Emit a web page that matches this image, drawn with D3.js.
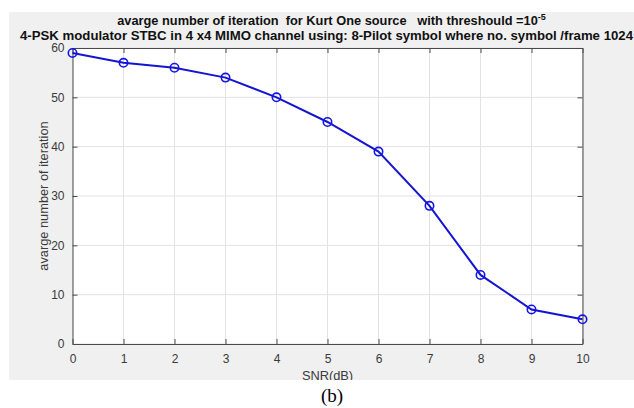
<!DOCTYPE html>
<html>
<head>
<meta charset="utf-8">
<script src="https://cdn.jsdelivr.net/npm/d3@7"></script>
<style>
  body { margin: 0; background: #fff; }
  svg { display: block; font-family: "Liberation Sans", Arial, sans-serif; }
</style>
</head>
<body>
<script>
// data
var snr = [0, 1, 2, 3, 4, 5, 6, 7, 8, 9, 10];
var iterations = [59, 57, 56, 54, 50, 45, 39, 28, 14, 7, 5];
var xTicks = [0, 1, 2, 3, 4, 5, 6, 7, 8, 9, 10];
var yTicks = [0, 10, 20, 30, 40, 50, 60];

var svgWidth = 634;
var svgHeight = 408;

// plot box inside the grey figure
var plot = { left: 72.5, top: 48, right: 582.5, bottom: 344 };

var svg = d3.select("body")
  .append("svg")
  .attr("width", svgWidth)
  .attr("height", svgHeight);

svg.append("clipPath").attr("id", "figclip")
  .append("rect").attr("x", 9).attr("y", 12).attr("width", 625).attr("height", 368);

var fig = svg.append("g").attr("clip-path", "url(#figclip)");

// grey figure background
fig.append("rect")
  .attr("x", 9).attr("y", 12)
  .attr("width", 625).attr("height", 368)
  .attr("fill", "#f0f0f0");

var xScale = d3.scaleLinear().domain([0, 10]).range([plot.left, plot.right]);
var yScale = d3.scaleLinear().domain([0, 60]).range([plot.bottom, plot.top]);

// white axes area
fig.append("rect")
  .attr("x", plot.left).attr("y", plot.top)
  .attr("width", plot.right - plot.left).attr("height", plot.bottom - plot.top)
  .attr("fill", "#fff");

// grid
fig.append("g").selectAll("line").data(xTicks).join("line")
  .attr("x1", d => xScale(d)).attr("x2", d => xScale(d))
  .attr("y1", plot.top).attr("y2", plot.bottom)
  .attr("stroke", "#e3e3e3").attr("stroke-width", 1);
fig.append("g").selectAll("line").data(yTicks).join("line")
  .attr("x1", plot.left).attr("x2", plot.right)
  .attr("y1", d => yScale(d)).attr("y2", d => yScale(d))
  .attr("stroke", "#e3e3e3").attr("stroke-width", 1);

// axes, ticks pointing inward, mirrored on top and right
var axisColor = "#4a4a4a";
var bottomAxis = d3.axisBottom(xScale).tickValues(xTicks).tickSizeInner(-5).tickSizeOuter(0).tickPadding(10);
var leftAxis = d3.axisLeft(yScale).tickValues(yTicks).tickSizeInner(-5).tickSizeOuter(0).tickPadding(8);
var topAxis = d3.axisTop(xScale).tickValues(xTicks).tickSizeInner(-5).tickSizeOuter(0).tickFormat("");
var rightAxis = d3.axisRight(yScale).tickValues(yTicks).tickSizeInner(-5).tickSizeOuter(0).tickFormat("");

function styleAxis(g) {
  g.selectAll("path, line").attr("stroke", axisColor);
  g.selectAll("text").attr("fill", "#3a3a3a").attr("font-size", 12)
    .attr("font-family", "Liberation Sans, Arial, sans-serif");
}

fig.append("g").attr("transform", `translate(0, ${plot.bottom})`).call(bottomAxis).call(styleAxis);
fig.append("g").attr("transform", `translate(${plot.left}, 0)`).call(leftAxis).call(styleAxis);
fig.append("g").attr("transform", `translate(0, ${plot.top})`).call(topAxis).call(styleAxis);
fig.append("g").attr("transform", `translate(${plot.right}, 0)`).call(rightAxis).call(styleAxis);

// the data line
var drawLine = d3.line()
  .x((d, i) => xScale(snr[i]))
  .y(d => yScale(d));

fig.append("path")
  .attr("d", drawLine(iterations))
  .attr("fill", "none")
  .attr("stroke", "#1414d2")
  .attr("stroke-width", 2);

fig.append("g").selectAll("circle").data(iterations).join("circle")
  .attr("cx", (d, i) => xScale(snr[i]))
  .attr("cy", d => yScale(d))
  .attr("r", 4.2)
  .attr("fill", "none")
  .attr("stroke", "#1414e6")
  .attr("stroke-width", 1.6);

// titles
var cx = (plot.left + plot.right) / 2;
var t1 = fig.append("text")
  .attr("x", cx + 4).attr("y", 24.5)
  .attr("text-anchor", "middle")
  .attr("font-weight", "bold").attr("font-size", 12.8)
  .attr("fill", "#111");
t1.append("tspan").text("avarge number of iteration\u00a0 for Kurt One source \u00a0 with threshould =10");
t1.append("tspan").attr("dy", -5).attr("font-size", 9).text("-5");

fig.append("text")
  .attr("x", 20).attr("y", 39.5)
  .attr("font-weight", "bold").attr("font-size", 12.6)
  .attr("textLength", 613).attr("lengthAdjust", "spacingAndGlyphs")
  .attr("fill", "#111")
  .text("4-PSK modulator STBC in 4 x4 MIMO channel using: 8-Pilot symbol where no. symbol /frame 1024");

// axis labels
fig.append("text")
  .attr("transform", `translate(48, ${(plot.top + plot.bottom) / 2}) rotate(-90)`)
  .attr("text-anchor", "middle")
  .attr("font-size", 12.8)
  .attr("fill", "#3a3a3a")
  .text("avarge number of iteration");

fig.append("text")
  .attr("x", cx).attr("y", 380)
  .attr("text-anchor", "middle")
  .attr("font-size", 12.8)
  .attr("fill", "#3a3a3a")
  .text("SNR(dB)");

// caption under the figure
svg.append("text")
  .attr("x", 332).attr("y", 402)
  .attr("text-anchor", "middle")
  .attr("font-family", "Liberation Serif, Times New Roman, serif")
  .attr("font-size", 19)
  .attr("fill", "#000")
  .text("(b)");
</script>
</body>
</html>
